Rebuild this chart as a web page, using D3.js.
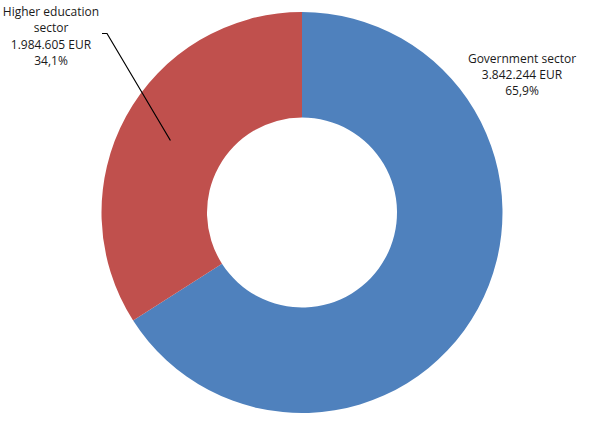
<!DOCTYPE html>
<html><head><meta charset="utf-8">
<script src="https://cdn.jsdelivr.net/npm/d3@7"></script>
<style>body{margin:0;background:#fff;}svg{display:block;}</style>
</head><body>
<script>
const categories = ["Government sector", "Higher education sector"];
const values = [3842244, 1984605];
const valueLabels = ["3.842.244 EUR", "1.984.605 EUR"];
const percentLabels = ["65,9%", "34,1%"];
const colors = ["#4F81BD", "#C0504D"];

const W = 607, H = 427;
const cx = 302, cy = 212.5, rOuter = 200.5, rInner = 95;
const svg = d3.select("body").append("svg").attr("width", W).attr("height", H);
const g = svg.append("g").attr("transform", `translate(${cx},${cy})`);
const pie = d3.pie().sort(null).value(d => d);
const arcs = pie(values);
const arc = d3.arc().innerRadius(rInner).outerRadius(rOuter);
g.selectAll("path").data(arcs).enter().append("path")
  .attr("d", arc).attr("fill", (d, i) => colors[i]);

const font = "'Open Sans', sans-serif";
function label(lines, x, y0, dy) {
  const t = svg.append("text").attr("text-anchor", "middle")
    .attr("font-family", font).attr("font-size", 12).attr("fill", "#1a1a1a");
  lines.forEach((l, i) => t.append("tspan").attr("x", x).attr("y", y0 + i * dy).text(l));
}
label([categories[0], valueLabels[0], percentLabels[0]], 522, 62.5, 16.4);
label(["Higher education", "sector", valueLabels[1], percentLabels[1]], 51, 16, 16.4);

// leader line for the small slice
const mid = (arcs[1].startAngle + arcs[1].endAngle) / 2;
const pr = 150;
const px = cx + Math.sin(mid) * pr, py = cy - Math.cos(mid) * pr;
svg.append("path")
  .attr("d", `M102,33.5 L107,33.5 L${px},${py}`)
  .attr("fill", "none").attr("stroke", "#000").attr("stroke-width", 1.2);
</script>
</body></html>
